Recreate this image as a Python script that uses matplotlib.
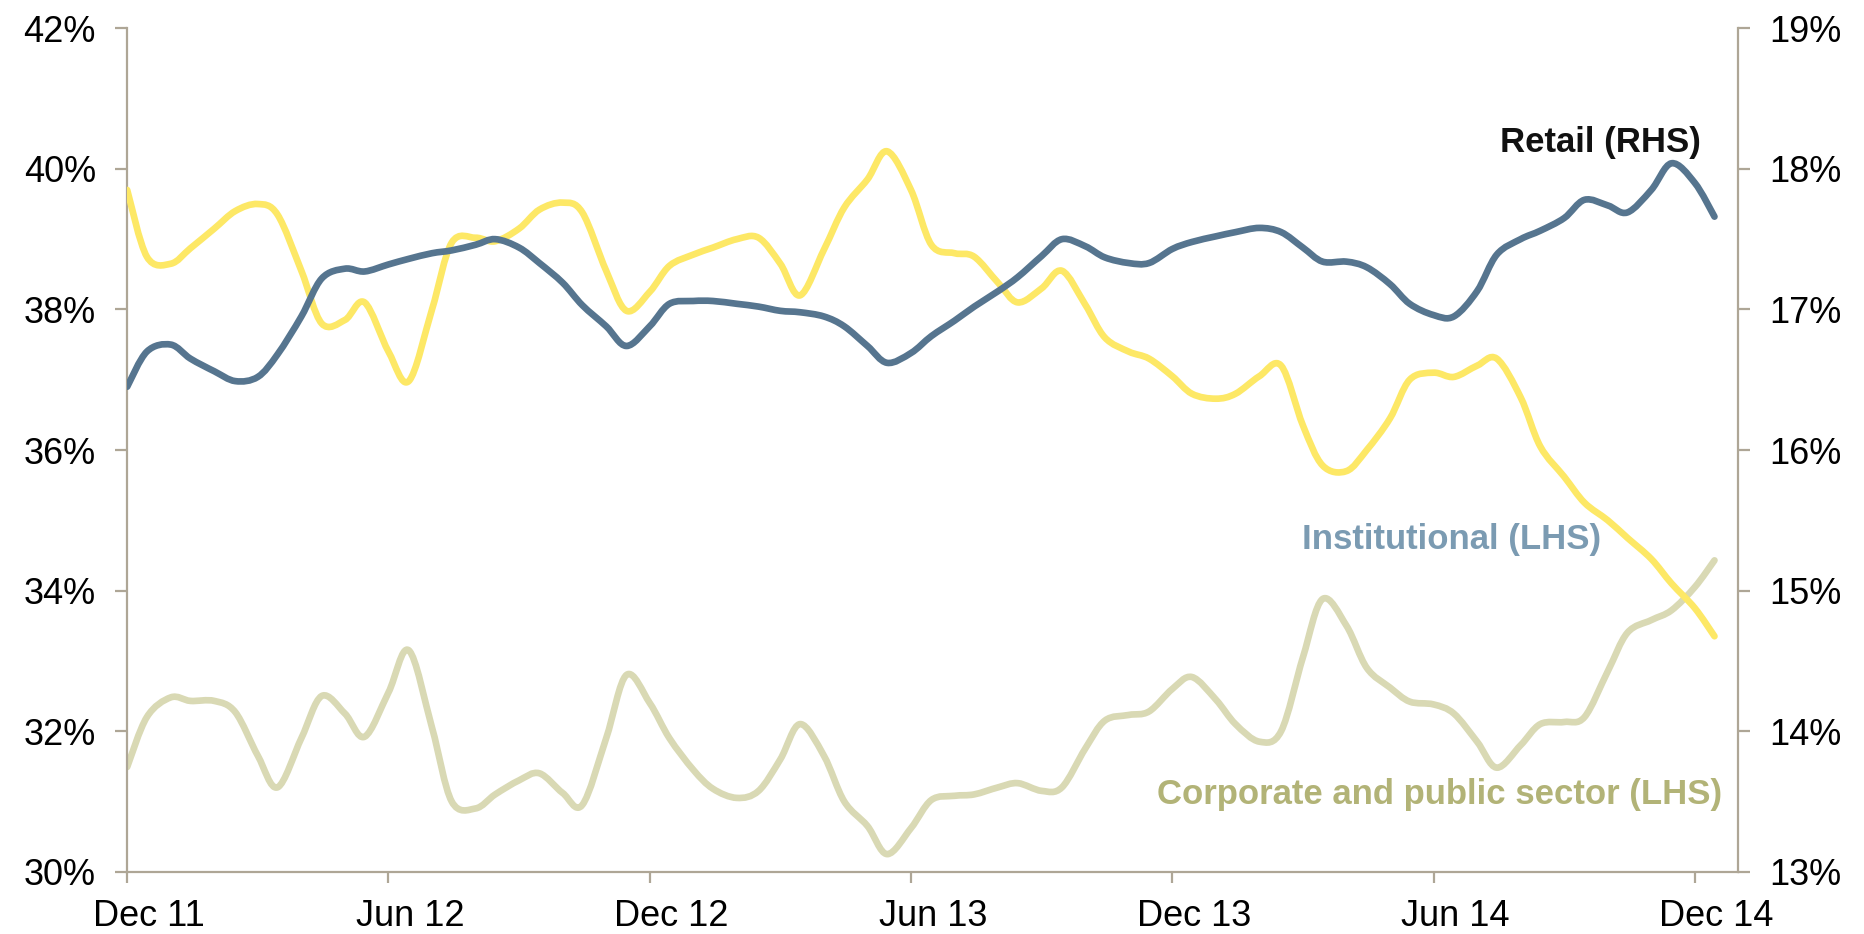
import numpy as np
import pandas as pd
import matplotlib
matplotlib.use("Agg")
import matplotlib.pyplot as plt
from matplotlib.path import Path
from matplotlib.patches import PathPatch
from matplotlib.ticker import FuncFormatter

plt.rcParams["font.family"] = ["Liberation Sans", "DejaVu Sans"]

# Semi-monthly observations (1st and 15th), Dec 2011 - Dec 2014
dates = pd.date_range("2011-12-01", "2014-12-15", freq="SMS")

# Share of total, % (left-hand scale)
institutional = [
    39.70, 38.75, 38.65, 38.87, 39.15, 39.40, 39.50, 39.35, 38.55, 37.80,
    37.85, 38.10, 37.40, 36.98, 38.00, 38.95, 39.02, 38.97, 39.15, 39.42,
    39.52, 39.38, 38.55, 37.98, 38.25, 38.62, 38.78, 38.88, 39.00, 39.02,
    38.65, 38.20, 38.85, 39.45, 39.85, 40.25, 39.70, 38.92, 38.80, 38.75,
    38.38, 38.10, 38.30, 38.55, 38.07, 37.60, 37.40, 37.30, 37.05, 36.80,
    36.73, 36.80, 37.05, 37.20, 36.35, 35.78, 35.70, 36.00, 36.45, 37.00,
    37.10, 37.04, 37.20, 37.30, 36.75, 36.05, 35.62, 35.25, 35.00, 34.75,
    34.45, 34.10, 33.75, 33.35,
]
corporate = [
    31.49, 32.20, 32.48, 32.43, 32.43, 32.27, 31.65, 31.20, 31.90, 32.50,
    32.25, 31.92, 32.55, 33.15, 32.05, 31.00, 30.90, 31.10, 31.30, 31.40,
    31.12, 30.95, 31.90, 32.80, 32.40, 31.90, 31.45, 31.18, 31.05, 31.15,
    31.60, 32.10, 31.65, 31.00, 30.65, 30.25, 30.62, 31.02, 31.08, 31.10,
    31.20, 31.26, 31.15, 31.20, 31.75, 32.15, 32.23, 32.28, 32.60, 32.77,
    32.45, 32.10, 31.85, 32.00, 33.05, 33.88, 33.50, 32.90, 32.62, 32.42,
    32.38, 32.25, 31.85, 31.48, 31.80, 32.10, 32.13, 32.20, 32.85, 33.40,
    33.58, 33.72, 34.05, 34.43,
]
# Share of total, % (right-hand scale)
retail = [
    16.45, 16.70, 16.75, 16.65, 16.56, 16.49, 16.52, 16.68, 16.95, 17.22,
    17.29, 17.27, 17.32, 17.36, 17.40, 17.42, 17.46, 17.50, 17.44, 17.33,
    17.19, 17.03, 16.88, 16.74, 16.88, 17.04, 17.06, 17.06, 17.04, 17.02,
    16.99, 16.98, 16.95, 16.88, 16.74, 16.62, 16.69, 16.81, 16.92, 17.02,
    17.13, 17.23, 17.38, 17.50, 17.45, 17.37, 17.33, 17.33, 17.43, 17.48,
    17.52, 17.55, 17.58, 17.55, 17.44, 17.34, 17.34, 17.30, 17.18, 17.04,
    16.96, 16.95, 17.13, 17.39, 17.50, 17.56, 17.65, 17.78, 17.74, 17.69,
    17.85, 18.04, 17.90, 17.66,
]

tick_labels = ["Dec 11", "Jun 12", "Dec 12", "Jun 13", "Dec 13", "Jun 14", "Dec 14"]
left_ticks = [30, 32, 34, 36, 38, 40, 42]
right_ticks = [13, 14, 15, 16, 17, 18, 19]

# Convert dates to months elapsed since 1 Dec 2011
x = np.array([(d.year - 2011) * 12 + (d.month - 12) + (d.day - 1) / d.days_in_month
              for d in dates])

AXIS_GREY = "#aea696"
YELLOW = "#fde866"
SLATE = "#56758f"
OLIVE = "#d9d9b4"


def smooth_path(xs, ys):
    """Cubic Bezier path passing through every point (Catmull-Rom style)."""
    pts = np.column_stack([xs, ys])
    n = len(pts)
    verts = [pts[0]]
    codes = [Path.MOVETO]
    for i in range(n - 1):
        p0 = pts[i - 1] if i > 0 else pts[i]
        p1 = pts[i]
        p2 = pts[i + 1]
        p3 = pts[i + 2] if i + 2 < n else pts[i + 1]
        verts += [p1 + (p2 - p0) / 6.0, p2 - (p3 - p1) / 6.0, p2]
        codes += [Path.CURVE4] * 3
    return Path(verts, codes)


def add_smooth_line(axis, xs, ys, color, z):
    patch = PathPatch(smooth_path(xs, ys), fill=False, edgecolor=color,
                      linewidth=4.8, capstyle="round", joinstyle="round", zorder=z)
    axis.add_patch(patch)


fig = plt.figure(figsize=(18.65, 9.34), dpi=100)
ax = fig.add_axes([0.0682, 0.0667, 0.8639, 0.9030])
ax2 = ax.twinx()

ax.set_xlim(0, 37)
ax.set_ylim(30, 42)
ax2.set_ylim(13, 19)

add_smooth_line(ax, x, corporate, OLIVE, 2)
add_smooth_line(ax, x, institutional, YELLOW, 3)
add_smooth_line(ax2, x, retail, SLATE, 4)

# Spines
for a in (ax, ax2):
    a.spines["top"].set_visible(False)
    for s in a.spines.values():
        s.set_color(AXIS_GREY)
        s.set_linewidth(1.6)
ax.spines["right"].set_visible(False)
ax2.spines["left"].set_visible(False)
ax2.spines["bottom"].set_visible(False)

pct = FuncFormatter(lambda v, _: f"{v:.0f}%")
ax.set_yticks(left_ticks)
ax.yaxis.set_major_formatter(pct)
ax2.set_yticks(right_ticks)
ax2.yaxis.set_major_formatter(pct)

for a in (ax, ax2):
    a.tick_params(axis="y", direction="out", length=8.5, width=1.6,
                  color=AXIS_GREY, labelsize=26, pad=14, labelcolor="black")

# Month ticks at period boundaries, labels centred half a month later
ax.set_xticks(np.arange(0, 37, 6))
ax.set_xticklabels([])
ax.set_xticks(np.arange(0, 37, 6) + 0.5, minor=True)
ax.set_xticklabels(tick_labels, minor=True)
ax.tick_params(axis="x", which="major", direction="out", length=7.7, width=1.6,
               color=AXIS_GREY)
ax.tick_params(axis="x", which="minor", length=0, labelsize=26, pad=20,
               labelcolor="black")

# Series labels
ax.text(0.9142, 0.8533, "Retail (RHS)", transform=ax.transAxes, ha="center",
        va="baseline", fontsize=25, fontweight="bold", color="#111111", zorder=6)
ax.text(0.8217, 0.3823, "Institutional (LHS)", transform=ax.transAxes, ha="center",
        va="baseline", fontsize=25, fontweight="bold", color="#7b9bb2", zorder=6)
ax.text(0.8143, 0.0803, "Corporate and public sector (LHS)", transform=ax.transAxes,
        ha="center", va="baseline", fontsize=25, fontweight="bold", color="#b2b377",
        zorder=6)

ax2.set_zorder(ax.get_zorder() + 1)
ax2.patch.set_visible(False)

fig.savefig("out.png", dpi=100)
